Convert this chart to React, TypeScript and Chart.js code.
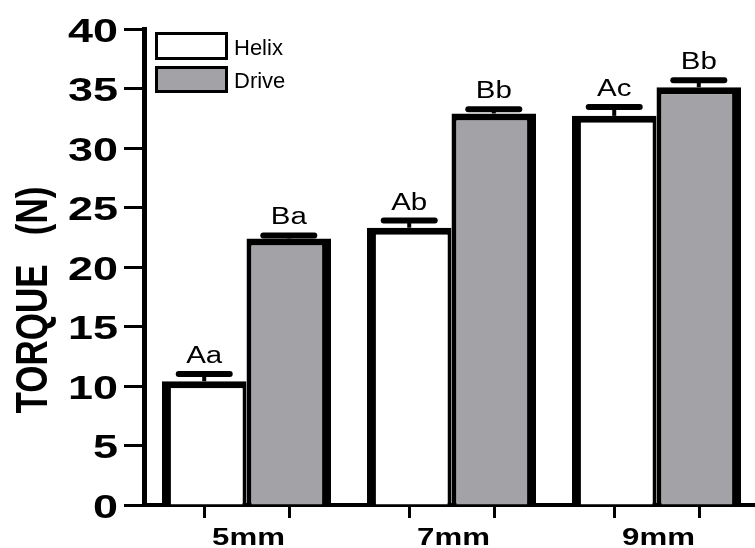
import React, { useEffect, useRef } from 'react';
import { Chart, registerables } from 'chart.js';

Chart.register(...registerables);

// ---- data ----
const categories = ['5mm', '7mm', '9mm'];
const seriesNames = ['Helix', 'Drive'];
const helixValues = [10.4, 23.3, 32.7];
const driveValues = [22.4, 32.9, 35.1];
const helixErrors = [0.6, 0.6, 0.75];
const driveErrors = [0.25, 0.35, 0.6];
const helixLetters = ['Aa', 'Ab', 'Ac'];
const driveLetters = ['Ba', 'Bb', 'Bb'];
const yTitle = 'TORQUE   (N)';
const yMin = 0;
const yMax = 40;
const yStep = 5;

const GRAY = '#a3a3a7';
const FONT = '"Liberation Sans", Arial, sans-serif';

const errorsBySet = [helixErrors, driveErrors];
const lettersBySet = [helixLetters, driveLetters];

function drawText(
  ctx: CanvasRenderingContext2D,
  text: string,
  x: number,
  y: number,
  sx: number,
  font: string,
  align: CanvasTextAlign,
  rotate = 0
) {
  ctx.save();
  ctx.translate(x, y);
  ctx.scale(sx, 1);
  if (rotate) ctx.rotate(rotate);
  ctx.font = font;
  ctx.textAlign = align;
  ctx.textBaseline = 'alphabetic';
  ctx.fillStyle = '#000';
  ctx.fillText(text, 0, 0);
  ctx.restore();
}

const decorPlugin = {
  id: 'decor',
  afterDatasetsDraw(chart: any) {
    const ctx: CanvasRenderingContext2D = chart.ctx;
    const yScale = chart.scales.y;
    ctx.save();
    ctx.strokeStyle = '#000';
    chart.data.datasets.forEach((ds: any, di: number) => {
      const meta = chart.getDatasetMeta(di);
      meta.data.forEach((bar: any, i: number) => {
        const v = ds.data[i];
        const e = errorsBySet[di][i];
        const yCap = yScale.getPixelForValue(v + e);
        // stem
        ctx.lineCap = 'butt';
        ctx.lineWidth = 4;
        ctx.beginPath();
        ctx.moveTo(bar.x, bar.y);
        ctx.lineTo(bar.x, yCap);
        ctx.stroke();
        // cap
        ctx.lineCap = 'round';
        ctx.lineWidth = 6;
        ctx.beginPath();
        ctx.moveTo(bar.x - 25.5, yCap);
        ctx.lineTo(bar.x + 25.5, yCap);
        ctx.stroke();
        // letters
        drawText(ctx, lettersBySet[di][i], bar.x, yCap - 11, 1.28, `23px ${FONT}`, 'center');
      });
    });
    ctx.restore();
  },
  afterDraw(chart: any) {
    const ctx: CanvasRenderingContext2D = chart.ctx;
    const yScale = chart.scales.y;
    const xScale = chart.scales.x;
    const area = chart.chartArea;

    // y tick labels
    yScale.ticks.forEach((t: any) => {
      const py = yScale.getPixelForValue(t.value);
      drawText(ctx, String(t.value), 118, py + 12.5, 1.32, `bold 34px ${FONT}`, 'right');
    });

    // x per-bar tick marks
    ctx.save();
    ctx.strokeStyle = '#000';
    ctx.lineWidth = 3;
    chart.data.datasets.forEach((_ds: any, di: number) => {
      chart.getDatasetMeta(di).data.forEach((bar: any) => {
        ctx.beginPath();
        ctx.moveTo(Math.round(bar.x) + 0.5, area.bottom + 2);
        ctx.lineTo(Math.round(bar.x) + 0.5, area.bottom + 13);
        ctx.stroke();
      });
    });
    ctx.restore();

    // x category labels
    categories.forEach((c, i) => {
      const px = xScale.getPixelForValue(i);
      drawText(ctx, c, px + 2, 545, 1.3, `bold 24px ${FONT}`, 'center');
    });

    // y title
    drawText(ctx, yTitle, 47, 300, 1.27, `bold 35px ${FONT}`, 'center', -Math.PI / 2);

    // legend
    ctx.save();
    ctx.lineWidth = 3;
    ctx.strokeStyle = '#000';
    ctx.fillStyle = '#fff';
    ctx.fillRect(156.5, 33.5, 70, 25);
    ctx.strokeRect(156.5, 33.5, 70, 25);
    ctx.fillStyle = GRAY;
    ctx.fillRect(156.5, 67.5, 70, 24);
    ctx.strokeRect(156.5, 67.5, 70, 24);
    ctx.restore();
    drawText(ctx, seriesNames[0], 234, 55, 1.0, `22px ${FONT}`, 'left');
    drawText(ctx, seriesNames[1], 234, 88, 1.0, `22px ${FONT}`, 'left');
  },
};

export default function App() {
  const ref = useRef<HTMLCanvasElement | null>(null);

  useEffect(() => {
    if (!ref.current) return;
    const chart = new Chart(ref.current, {
      type: 'bar',
      data: {
        labels: categories,
        datasets: [
          {
            label: seriesNames[0],
            data: helixValues,
            backgroundColor: '#ffffff',
            borderColor: '#000000',
            borderWidth: { top: 7, left: 9, right: 4, bottom: 0 },
            borderSkipped: false,
            inflateAmount: 0,
            categoryPercentage: 0.825,
            barPercentage: 1,
          },
          {
            label: seriesNames[1],
            data: driveValues,
            backgroundColor: GRAY,
            borderColor: '#000000',
            borderWidth: { top: 7, left: 5, right: 9, bottom: 0 },
            borderSkipped: false,
            inflateAmount: 0,
            categoryPercentage: 0.825,
            barPercentage: 1,
          },
        ],
      },
      options: {
        animation: false,
        responsive: false,
        devicePixelRatio: 1,
        layout: { padding: { left: 0, right: 3, top: 29, bottom: 0 } },
        plugins: {
          legend: { display: false },
          tooltip: { enabled: false },
        },
        scales: {
          x: {
            z: 1,
            grid: { display: false },
            border: { display: true, color: '#000', width: 4 },
            ticks: { display: false },
            afterFit: (s: any) => {
              s.height = 43;
            },
          },
          y: {
            min: yMin,
            max: yMax,
            ticks: { display: false, stepSize: yStep },
            grid: {
              drawOnChartArea: false,
              drawTicks: true,
              tickLength: 20,
              tickWidth: 3,
              tickColor: '#000',
            },
            border: { display: true, color: '#000', width: 5 },
            afterFit: (s: any) => {
              s.width = 144;
            },
          },
        },
      } as any,
      plugins: [decorPlugin],
    });
    return () => chart.destroy();
  }, []);

  return (
    <div style={{ position: 'fixed', left: 0, top: 0, width: 762, height: 548, background: '#fff' }}>
      <canvas ref={ref} width={762} height={548} />
    </div>
  );
}
